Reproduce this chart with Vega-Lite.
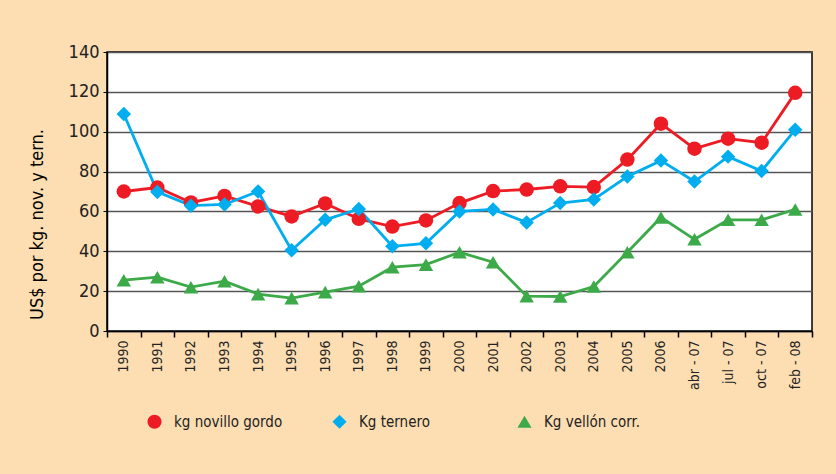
{
  "$schema": "https://vega.github.io/schema/vega-lite/v6.json",
  "autosize": {"type": "none"},
  "padding": {"left": 107, "top": 52, "right": 24, "bottom": 143},
  "width": 705,
  "height": 279,
  "background": "#FDDEB2",
  "config": {
    "font": "DejaVu Sans Condensed, Liberation Sans Narrow, Roboto",
    "view": {"fill": "white", "stroke": "black", "strokeWidth": 1.5}
  },
  "data": {
    "values": [
      {"period": "1990", "series": "kg novillo gordo", "value": 70},
      {"period": "1991", "series": "kg novillo gordo", "value": 72},
      {"period": "1992", "series": "kg novillo gordo", "value": 64.5},
      {"period": "1993", "series": "kg novillo gordo", "value": 67.8},
      {"period": "1994", "series": "kg novillo gordo", "value": 62.5},
      {"period": "1995", "series": "kg novillo gordo", "value": 57.5},
      {"period": "1996", "series": "kg novillo gordo", "value": 64},
      {"period": "1997", "series": "kg novillo gordo", "value": 56.3},
      {"period": "1998", "series": "kg novillo gordo", "value": 52.4},
      {"period": "1999", "series": "kg novillo gordo", "value": 55.5},
      {"period": "2000", "series": "kg novillo gordo", "value": 64.2},
      {"period": "2001", "series": "kg novillo gordo", "value": 70.2},
      {"period": "2002", "series": "kg novillo gordo", "value": 71},
      {"period": "2003", "series": "kg novillo gordo", "value": 72.6},
      {"period": "2004", "series": "kg novillo gordo", "value": 72.2},
      {"period": "2005", "series": "kg novillo gordo", "value": 86},
      {"period": "2006", "series": "kg novillo gordo", "value": 104},
      {"period": "abr - 07", "series": "kg novillo gordo", "value": 91.5},
      {"period": "jul - 07", "series": "kg novillo gordo", "value": 96.5},
      {"period": "oct - 07", "series": "kg novillo gordo", "value": 94.5},
      {"period": "feb - 08", "series": "kg novillo gordo", "value": 119.5},
      {"period": "1990", "series": "Kg ternero", "value": 108.9},
      {"period": "1991", "series": "Kg ternero", "value": 69.8},
      {"period": "1992", "series": "Kg ternero", "value": 62.9},
      {"period": "1993", "series": "Kg ternero", "value": 63.5},
      {"period": "1994", "series": "Kg ternero", "value": 70},
      {"period": "1995", "series": "Kg ternero", "value": 40.5},
      {"period": "1996", "series": "Kg ternero", "value": 55.8},
      {"period": "1997", "series": "Kg ternero", "value": 61.2},
      {"period": "1998", "series": "Kg ternero", "value": 42.5},
      {"period": "1999", "series": "Kg ternero", "value": 44},
      {"period": "2000", "series": "Kg ternero", "value": 60},
      {"period": "2001", "series": "Kg ternero", "value": 61},
      {"period": "2002", "series": "Kg ternero", "value": 54.5},
      {"period": "2003", "series": "Kg ternero", "value": 64.2},
      {"period": "2004", "series": "Kg ternero", "value": 66},
      {"period": "2005", "series": "Kg ternero", "value": 77.5},
      {"period": "2006", "series": "Kg ternero", "value": 85.5},
      {"period": "abr - 07", "series": "Kg ternero", "value": 75},
      {"period": "jul - 07", "series": "Kg ternero", "value": 87.5},
      {"period": "oct - 07", "series": "Kg ternero", "value": 80.3},
      {"period": "feb - 08", "series": "Kg ternero", "value": 101},
      {"period": "1990", "series": "Kg vellón corr.", "value": 25.5},
      {"period": "1991", "series": "Kg vellón corr.", "value": 27},
      {"period": "1992", "series": "Kg vellón corr.", "value": 22},
      {"period": "1993", "series": "Kg vellón corr.", "value": 25},
      {"period": "1994", "series": "Kg vellón corr.", "value": 18.5},
      {"period": "1995", "series": "Kg vellón corr.", "value": 16.5},
      {"period": "1996", "series": "Kg vellón corr.", "value": 19.5},
      {"period": "1997", "series": "Kg vellón corr.", "value": 22.5},
      {"period": "1998", "series": "Kg vellón corr.", "value": 32},
      {"period": "1999", "series": "Kg vellón corr.", "value": 33.3},
      {"period": "2000", "series": "Kg vellón corr.", "value": 39.5},
      {"period": "2001", "series": "Kg vellón corr.", "value": 34.5},
      {"period": "2002", "series": "Kg vellón corr.", "value": 17.5},
      {"period": "2003", "series": "Kg vellón corr.", "value": 17.3},
      {"period": "2004", "series": "Kg vellón corr.", "value": 22.3},
      {"period": "2005", "series": "Kg vellón corr.", "value": 39.5},
      {"period": "2006", "series": "Kg vellón corr.", "value": 57},
      {"period": "abr - 07", "series": "Kg vellón corr.", "value": 46},
      {"period": "jul - 07", "series": "Kg vellón corr.", "value": 55.8},
      {"period": "oct - 07", "series": "Kg vellón corr.", "value": 55.8},
      {"period": "feb - 08", "series": "Kg vellón corr.", "value": 61}
    ]
  },
  "encoding": {
    "x": {
      "field": "period",
      "type": "ordinal",
      "sort": null,
      "scale": {"paddingInner": 0, "paddingOuter": 0},
      "axis": {
        "title": null,
        "labelAngle": -90,
        "labelFontSize": 14,
        "labelColor": "#222",
        "labelPadding": 3,
        "tickBand": "extent",
        "tickSize": 6,
        "tickColor": "black",
        "tickWidth": 1.5,
        "domainColor": "black",
        "domainWidth": 1.5
      }
    },
    "y": {
      "field": "value",
      "type": "quantitative",
      "scale": {"domain": [0, 140], "nice": false},
      "axis": {
        "title": "US$ por kg. nov. y tern.",
        "titleFontSize": 18,
        "titleFontWeight": "normal",
        "titleColor": "black",
        "titleX": -70,
        "titleY": 172,
        "titleAngle": -90,
        "titleAlign": "center",
        "titleBaseline": "middle",
        "values": [0, 20, 40, 60, 80, 100, 120, 140],
        "labelFontSize": 18,
        "labelColor": "#222",
        "labelPadding": 4,
        "tickSize": 4,
        "tickColor": "black",
        "domainColor": "black",
        "domainWidth": 1.5,
        "gridColor": "#555",
        "gridWidth": 1.6
      }
    },
    "color": {
      "field": "series",
      "type": "nominal",
      "sort": ["kg novillo gordo", "Kg ternero", "Kg vellón corr."],
      "scale": {
        "domain": ["kg novillo gordo", "Kg ternero", "Kg vellón corr."],
        "range": ["#ED1C24", "#00AEEF", "#3DAA49"]
      },
      "legend": {
        "title": null,
        "orient": "none",
        "legendX": 40,
        "legendY": 362,
        "direction": "horizontal",
        "columns": 3,
        "gridAlign": "all",
        "columnPadding": 49,
        "labelFontSize": 15,
        "labelColor": "#222",
        "labelOffset": 12,
        "symbolSize": 200,
        "symbolStrokeWidth": 0
      }
    }
  },
  "layer": [
    {
      "mark": {"type": "line", "strokeWidth": 2.8},
      "encoding": {"detail": {"field": "series"}}
    },
    {
      "mark": {"type": "point", "filled": true, "opacity": 1, "size": 210},
      "encoding": {
        "shape": {
          "field": "series",
          "type": "nominal",
          "sort": ["kg novillo gordo", "Kg ternero", "Kg vellón corr."],
          "scale": {
            "domain": ["kg novillo gordo", "Kg ternero", "Kg vellón corr."],
            "range": ["circle", "diamond", "triangle-up"]
          },
          "legend": {
            "title": null,
            "orient": "none",
            "legendX": 40,
            "legendY": 362,
            "direction": "horizontal",
            "columns": 3,
            "gridAlign": "all",
            "columnPadding": 49,
            "labelFontSize": 15,
            "labelColor": "#222",
            "labelOffset": 12,
            "symbolSize": 200,
            "symbolStrokeWidth": 0
          }
        }
      }
    }
  ]
}
